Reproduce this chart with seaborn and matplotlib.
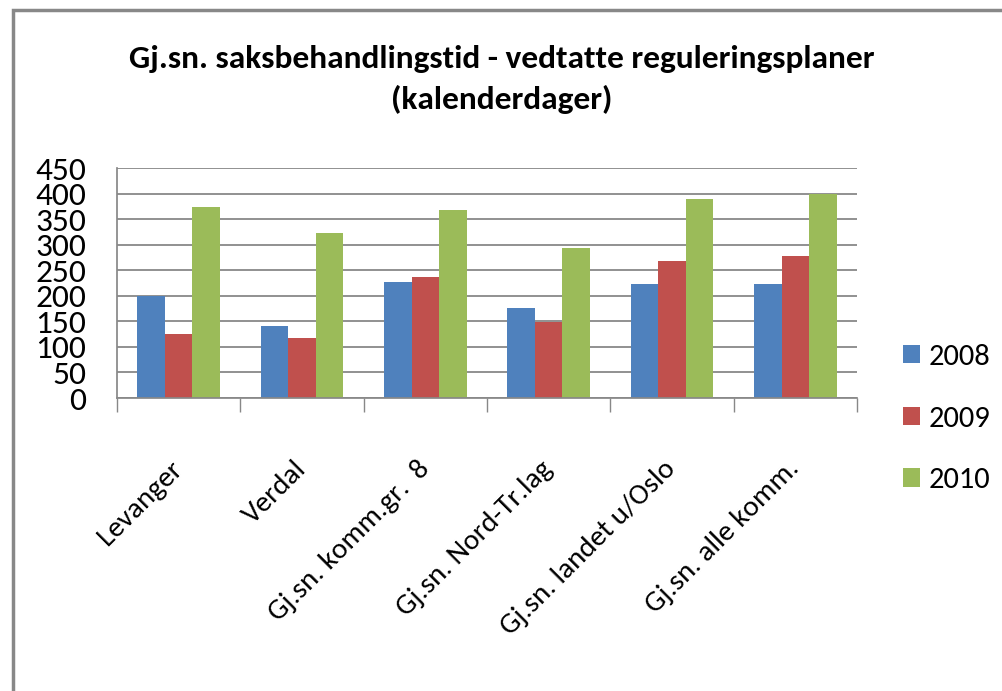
import pandas as pd
import seaborn as sns
import matplotlib.pyplot as plt
from matplotlib.patches import Rectangle

# values
categories = ["Levanger", "Verdal", "Gj.sn. komm.gr.  8", "Gj.sn. Nord-Tr.lag",
              "Gj.sn. landet u/Oslo", "Gj.sn. alle komm."]
years = ["2008", "2009", "2010"]
v2008 = [199, 141, 227, 176, 224, 224]
v2009 = [125, 118, 236, 148, 269, 278]
v2010 = [373, 323, 368, 294, 389, 399]
colors = ["#4F81BD", "#C0504D", "#9BBB59"]

rows = []
for year, vals in zip(years, [v2008, v2009, v2010]):
    for cat, v in zip(categories, vals):
        rows.append({"Kategori": cat, "År": year, "Dager": v})
df = pd.DataFrame(rows)

sns.set_theme(style="white")
plt.rcParams['font.family'] = ['Carlito', 'DejaVu Sans']
plt.rcParams['text.color'] = 'black'
plt.rcParams['xtick.color'] = 'black'
plt.rcParams['ytick.color'] = 'black'

fig = plt.figure(figsize=(10.03, 6.91), dpi=100)
ax = fig.add_axes([117 / 1003, 1 - 398 / 691, (857 - 117) / 1003, (398 - 168) / 691])

sns.barplot(data=df, x="Kategori", y="Dager", hue="År", palette=colors,
            width=0.67, ax=ax, saturation=1, legend=True, linewidth=0)

ax.set_ylim(0, 450)
ax.set_yticks(range(0, 451, 50))
ax.set_xlim(-0.5, len(categories) - 0.5)
ax.yaxis.grid(True, color="#888888", linewidth=1.3)
ax.set_axisbelow(True)
ax.set_xlabel("")
ax.set_ylabel("")
for s in ["top", "right"]:
    ax.spines[s].set_visible(False)
ax.spines["left"].set_color("#888888")
ax.spines["bottom"].set_color("#888888")
ax.tick_params(axis="y", labelsize=24, pad=22, length=0)

# category boundary ticks on x axis
ax.set_xticks([i - 0.5 for i in range(len(categories) + 1)], minor=True)
ax.tick_params(axis="x", which="minor", length=10, color="#888888", width=1, direction="out", bottom=True)
ax.tick_params(axis="x", which="major", length=0, labelsize=21, pad=48)
ax.set_xticks(range(len(categories)))
ax.set_xticklabels(categories, rotation=45, ha="right", va="center", rotation_mode="anchor")

handles, labels = ax.get_legend_handles_labels()
leg = ax.legend(handles, labels, loc="center left", bbox_to_anchor=(1.025, -0.09),
                frameon=False, fontsize=22, handlelength=0.55, handleheight=0.55,
                labelspacing=1.17, handletextpad=0.3)

fig.suptitle("Gj.sn. saksbehandlingstid - vedtatte reguleringsplaner\n(kalenderdager)",
             x=0.5, y=0.935, fontsize=24, fontweight="semibold", linespacing=1.5)

fig.patches.append(Rectangle((13 / 1003, -0.1), 1.2, 1 - 10 / 691 + 0.1,
                             transform=fig.transFigure, fill=False,
                             edgecolor="#888888", linewidth=2.5))

fig.savefig("out.png", dpi=100)
